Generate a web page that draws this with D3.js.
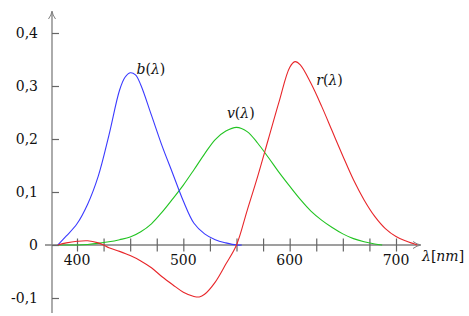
<!DOCTYPE html>
<html>
<head>
<meta charset="utf-8">
<script src="https://cdn.jsdelivr.net/npm/d3@7"></script>
<style>
  body { margin: 0; background: #fff; }
</style>
</head>
<body>
<script>
// wavelengths (nm) and values
const blueL = [382, 390, 400, 410, 420, 430, 440, 445, 450, 455, 460, 470, 480, 490, 500, 510, 520, 530, 540, 550, 555];
const blueV = [0, 0.017, 0.04, 0.077, 0.13, 0.207, 0.292, 0.316, 0.325, 0.321, 0.302, 0.245, 0.187, 0.135, 0.083, 0.041, 0.021, 0.01, 0.004, 0.0, 0];

const greenL = [382, 400, 410, 420, 430, 440, 450, 460, 470, 480, 490, 500, 510, 520, 530, 540, 550, 560, 570, 580, 590, 600, 610, 620, 630, 640, 650, 660, 670, 680, 687];
const greenV = [0, 0, 0.001, 0.003, 0.006, 0.01, 0.015, 0.025, 0.04, 0.062, 0.087, 0.113, 0.142, 0.172, 0.199, 0.215, 0.222, 0.214, 0.192, 0.165, 0.137, 0.111, 0.086, 0.064, 0.047, 0.033, 0.021, 0.012, 0.006, 0.002, 0];

const redL = [382, 390, 400, 410, 420, 425, 430, 440, 450, 460, 470, 480, 490, 500, 510, 515, 520, 530, 540, 550, 560, 570, 580, 590, 600, 605, 610, 620, 630, 640, 650, 660, 670, 680, 690, 700, 710, 720];
const redV = [0, 0.004, 0.007, 0.008, 0.004, 0, -0.005, -0.012, -0.02, -0.03, -0.043, -0.06, -0.075, -0.089, -0.097, -0.098, -0.093, -0.07, -0.036, 0, 0.065, 0.13, 0.2, 0.27, 0.335, 0.346, 0.34, 0.305, 0.262, 0.215, 0.168, 0.123, 0.085, 0.054, 0.031, 0.016, 0.007, 0];

const xTicks = d3.range(400, 701, 25);
const xLabels = [400, 500, 600, 700];
const yTicks = [-0.1, 0, 0.1, 0.2, 0.3, 0.4];

const w = 469, h = 316;
const font = "'DejaVu Serif', serif";
const svg = d3.select("body").append("svg").attr("width", w).attr("height", h)
  .attr("font-family", font);

const x = d3.scaleLinear().domain([400, 700]).range([77, 396]);
const y = d3.scaleLinear().domain([-0.1, 0.4]).range([298, 33]);

const axisX = 52;    // pixel position of the vertical axis
const axisY = y(0);
const grey = "#7f7f7f";

// horizontal axis
svg.append("line").attr("x1", 45).attr("x2", 420)
  .attr("y1", axisY).attr("y2", axisY)
  .attr("stroke", grey).attr("stroke-width", 1.3);
svg.append("path")
  .attr("d", `M${413},${axisY - 3.5} Q${417},${axisY - 0.5} ${421},${axisY} Q${417},${axisY + 0.5} ${413},${axisY + 3.5}`)
  .attr("fill", "none").attr("stroke", grey).attr("stroke-width", 1);

// vertical axis
svg.append("line").attr("x1", axisX).attr("x2", axisX)
  .attr("y1", 313).attr("y2", 12)
  .attr("stroke", grey).attr("stroke-width", 1.3);
svg.append("path")
  .attr("d", `M${axisX - 3.5},${19} Q${axisX - 0.5},${15} ${axisX},${11} Q${axisX + 0.5},${15} ${axisX + 3.5},${19}`)
  .attr("fill", "none").attr("stroke", grey).attr("stroke-width", 1);

// x ticks crossing the axis
const gx = svg.append("g").attr("transform", `translate(0,${axisY})`)
  .call(d3.axisBottom(x).tickValues(xTicks).tickSize(6.5).tickFormat(""));
gx.select(".domain").remove();
gx.selectAll(".tick line").attr("y1", -6.5).attr("stroke", "#666").attr("stroke-width", 1.2);

svg.selectAll(".xlab").data(xLabels).enter().append("text")
  .attr("class", "xlab")
  .attr("x", d => x(d)).attr("y", axisY + 20)
  .attr("text-anchor", "middle").attr("font-size", 14).attr("fill", "#111")
  .text(d => d);

// y ticks crossing the axis
const gy = svg.append("g").attr("transform", `translate(${axisX},0)`)
  .call(d3.axisLeft(y).tickValues(yTicks).tickSize(7).tickFormat(""));
gy.select(".domain").remove();
gy.selectAll(".tick line").attr("x2", 7).attr("stroke", "#666").attr("stroke-width", 1.2);

svg.selectAll(".ylab").data(yTicks).enter().append("text")
  .attr("class", "ylab")
  .attr("x", 38).attr("y", d => y(d) + 5)
  .attr("text-anchor", "end").attr("font-size", 14).attr("fill", "#111")
  .text(d => d === 0 ? "0" : d3.format(".1f")(d).replace(".", ",").replace("−", "-"));

// curves
const line = d3.line().x(d => x(d[0])).y(d => y(d[1])).curve(d3.curveCatmullRom.alpha(0.5));
const series = [
  { L: greenL, V: greenV, c: "#22c422" },
  { L: blueL, V: blueV, c: "#3a3aff" },
  { L: redL, V: redV, c: "#e8262a" }
];
series.forEach(s => {
  svg.append("path")
    .datum(s.L.map((l, i) => [l, s.V[i]]))
    .attr("d", line)
    .attr("fill", "none").attr("stroke", s.c).attr("stroke-width", 1.1);
});

// curve labels, anchored at (wavelength, value)
const labels = [
  { t: "b", l: 456, v: 0.323 },
  { t: "v", l: 541, v: 0.24 },
  { t: "r", l: 625, v: 0.302 }
];
labels.forEach(d => {
  const t = svg.append("text")
    .attr("x", x(d.l)).attr("y", y(d.v))
    .attr("font-size", 14).attr("fill", "#111");
  t.append("tspan").attr("font-style", "italic").text(d.t);
  t.append("tspan").text("(");
  t.append("tspan").attr("font-style", "italic").text("λ");
  t.append("tspan").text(")");
});

const ax = svg.append("text").attr("x", 422).attr("y", axisY + 16)
  .attr("font-size", 14).attr("fill", "#111");
ax.append("tspan").attr("font-style", "italic").text("λ");
ax.append("tspan").text("[");
ax.append("tspan").attr("font-style", "italic").text("nm");
ax.append("tspan").text("]");
</script>
</body>
</html>
